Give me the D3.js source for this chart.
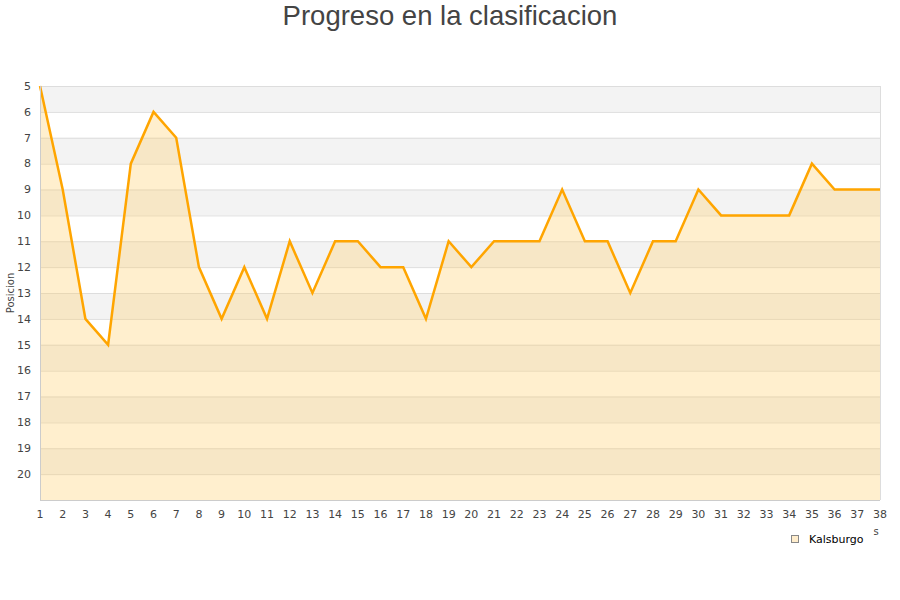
<!DOCTYPE html>
<html><head><meta charset="utf-8">
<script src="https://cdn.jsdelivr.net/npm/d3@7"></script>
<style>body{margin:0;background:#fff}svg{display:block}</style>
</head><body>
<script>
const title = "Progreso en la clasificacion";
const yTitle = "Posicion";
const seriesName = "Kalsburgo";
const jornadas = d3.range(1, 39);
const posiciones = [5,9,14,15,8,6,7,12,14,12,14,11,13,11,11,12,12,14,11,12,11,11,11,9,11,11,13,11,11,9,10,10,10,10,8,9,9,9];
const yTicks = d3.range(5, 21);

const W = 900, H = 600;
const m = {left: 40, right: 20, top: 86, bottom: 100};
const svg = d3.select("body").append("svg").attr("width", W).attr("height", H);

const x = d3.scaleLinear().domain([1, 38]).range([m.left, W - m.right]);
const y = d3.scaleLinear().domain([5, 21]).range([m.top, H - m.bottom]);

// bands
const bands = d3.range(5, 21);
svg.append("g").selectAll("rect").data(bands).join("rect")
  .attr("x", x(1)).attr("width", x(38) - x(1))
  .attr("y", d => y(d)).attr("height", d => y(d + 1) - y(d))
  .attr("fill", d => (d % 2 === 1) ? "#f3f3f3" : "#ffffff");

// grid
svg.append("g").selectAll("line").data(d3.range(5, 22)).join("line")
  .attr("x1", x(1)).attr("x2", x(38))
  .attr("y1", d => y(d) + 0.5).attr("y2", d => y(d) + 0.5)
  .attr("stroke", "#dddddd").attr("stroke-width", 1);

const data = jornadas.map((j, i) => ({j, p: posiciones[i]}));

// area
svg.append("path").datum(data)
  .attr("d", d3.area().x(d => x(d.j)).y0(y(21)).y1(d => y(d.p)))
  .attr("fill", "rgb(255,204,102)").attr("fill-opacity", 0.32);

// line
svg.append("path").datum(data)
  .attr("d", d3.line().x(d => x(d.j)).y(d => y(d.p)))
  .attr("fill", "none").attr("stroke", "#ffa500").attr("stroke-width", 2.5)
  .attr("stroke-linejoin", "miter");

// borders
svg.append("line").attr("x1", x(1) + 0.5).attr("x2", x(1) + 0.5).attr("y1", y(5)).attr("y2", y(21))
  .attr("stroke", "#cccccc");
svg.append("line").attr("x1", x(38) + 0.5).attr("x2", x(38) + 0.5).attr("y1", y(5)).attr("y2", y(21))
  .attr("stroke", "#dddddd");
svg.append("line").attr("x1", x(1)).attr("x2", x(38)).attr("y1", y(21) + 0.5).attr("y2", y(21) + 0.5)
  .attr("stroke", "#cccccc");

const font = "DejaVu Sans, sans-serif";
// y tick labels
svg.append("g").selectAll("text").data(yTicks).join("text")
  .attr("x", 31).attr("y", d => y(d)).attr("dy", "0.35em")
  .attr("text-anchor", "end").attr("font-family", font).attr("font-size", 11).attr("fill", "#444")
  .text(d => d);

// x tick labels
svg.append("g").selectAll("text").data(jornadas).join("text")
  .attr("x", d => x(d)).attr("y", 518)
  .attr("text-anchor", "middle").attr("font-family", font).attr("font-size", 11).attr("fill", "#444")
  .text(d => d);

// y title
svg.append("text").attr("transform", "translate(14," + (y(13)) + ") rotate(-90)")
  .attr("text-anchor", "middle").attr("font-family", font).attr("font-size", 10).attr("fill", "#444")
  .text(yTitle);

// title
svg.append("text").attr("x", W / 2).attr("y", 25).attr("text-anchor", "middle")
  .attr("font-family", "Liberation Sans, Arial, sans-serif").attr("font-size", 27.5).attr("fill", "#444")
  .text(title);

// clipped x title remnant
svg.append("text").attr("x", 876).attr("y", 535).attr("text-anchor", "middle")
  .attr("font-family", font).attr("font-size", 10).attr("fill", "#444").text("s");

// legend
svg.append("rect").attr("x", 791.5).attr("y", 535.5).attr("width", 7).attr("height", 7)
  .attr("fill", "#ffedcc").attr("stroke", "#888").attr("stroke-width", 1);
svg.append("text").attr("x", 809).attr("y", 543).attr("font-family", font).attr("font-size", 11)
  .attr("fill", "#000").text(seriesName);
</script>
</body></html>
